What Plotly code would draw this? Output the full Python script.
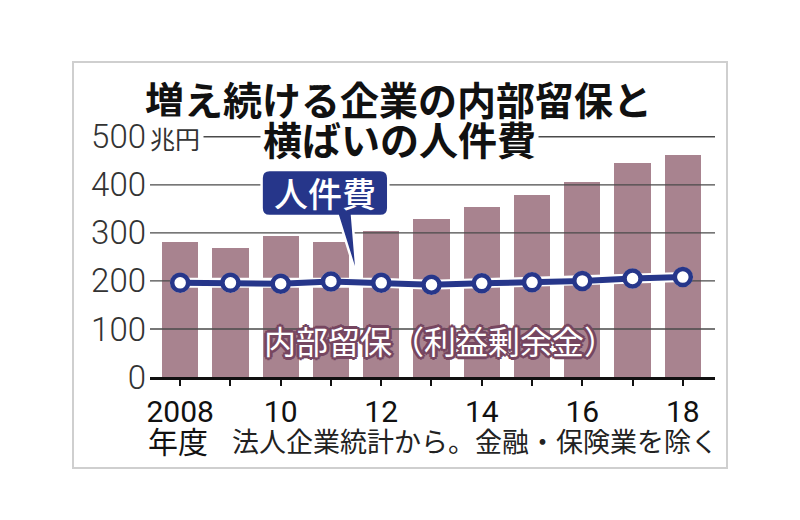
import plotly.graph_objects as go

# ---- data ----
years = [2008, 2009, 2010, 2011, 2012, 2013, 2014, 2015, 2016, 2017, 2018]
retained_earnings = [280, 269, 294, 282, 304, 328, 354, 378, 406, 446, 463]
labor_cost = [196, 196, 194, 199, 196, 192, 195, 197, 200, 205, 208]
x_tick_text = ["2008", "", "10", "", "12", "", "14", "", "16", "", "18"]
y_tick_vals = [0, 100, 200, 300, 400, 500]
y_tick_text = ["0", "100", "200", "300", "400", "500"]
title_line1 = "増え続ける企業の内部留保と"
title_line2 = "横ばいの人件費"
unit_label = "兆円"
labor_label = "人件費"
retained_label = "内部留保（利益剰余金）"
year_label = "年度"
source_note = "法人企業統計から。金融・保険業を除く"

# ---- style / layout ----
W, H = 800, 520
L, R, T, B = 150, 85, 132, 143
XR = [2007.4, 2018.64]
YR = [0, 510]
BAR = "#a8838f"
NAVY = "#26368a"
CJK = "Noto Sans CJK JP"
NUM = "Roboto"

def px(x):
    return (x - L) / (W - L - R)

def py(y):
    return (H - B - y) / (H - T - B)

fig = go.Figure()

fig.add_trace(go.Bar(x=years, y=retained_earnings, marker_color=BAR,
                     marker_line_width=0, width=0.72, hoverinfo="skip"))

# gridlines above the bars but below the line
for v in y_tick_vals[1:]:
    fig.add_trace(go.Scatter(x=XR, y=[v, v], mode="lines",
                             line=dict(color="#4a4a4a", width=1.4),
                             hoverinfo="skip"))

# white halo of the line
fig.add_trace(go.Scatter(x=years, y=labor_cost, mode="lines+markers",
                         line=dict(color="white", width=10),
                         marker=dict(size=20, color="white"),
                         cliponaxis=False, hoverinfo="skip"))
fig.add_trace(go.Scatter(x=years, y=labor_cost, mode="lines+markers",
                         line=dict(color=NAVY, width=6),
                         marker=dict(size=16, color="white",
                                     line=dict(color=NAVY, width=4.5)),
                         cliponaxis=False))

# callout box for 人件費 (data coordinates)
bx0, bx1, by0, by1 = 2009.62, 2012.14, 335, 431
rx, ry = 0.16, 17
p0, tip = (2011.14, 2011.42), (2011.52, 208)
path = (f"M {bx0+rx},{by1} L {bx1-rx},{by1} Q {bx1},{by1} {bx1},{by1-ry} "
        f"L {bx1},{by0+ry} Q {bx1},{by0} {bx1-rx},{by0} "
        f"L {p0[1]},{by0} L {tip[0]},{tip[1]} L {p0[0]},{by0} "
        f"L {bx0+rx},{by0} Q {bx0},{by0} {bx0},{by0+ry} "
        f"L {bx0},{by1-ry} Q {bx0},{by1} {bx0+rx},{by1} Z")
shapes = [
    dict(type="path", xref="x", yref="y", path=path, fillcolor=NAVY,
         line=dict(color="white", width=2.5), layer="above"),
    dict(type="rect", xref="paper", yref="paper", x0=px(73), x1=px(727),
         y0=py(468), y1=py(62), line=dict(color="#cfcfcf", width=2),
         layer="below"),
]

outline = "#764660"
shadow = ", ".join(f"{dx}px {dy}px 0 {outline}" for dx, dy in
                   [(3, 0), (-3, 0), (0, 3), (0, -3), (2, 2), (-2, 2),
                    (2, -2), (-2, -2)])

def ann(text, x, y, font, xanchor="center", xref="paper", yref="paper",
        **kw):
    return dict(text=text, x=x, y=y, xref=xref, yref=yref, showarrow=False,
                xanchor=xanchor, yanchor="middle", font=font, **kw)

annotations = [
    ann(title_line2, px(399), py(138),
        dict(family=CJK, size=39, color="#111", weight="bold"),
        bgcolor="white", borderpad=2),
    ann(title_line1, px(398), py(98),
        dict(family=CJK, size=39, color="#111", weight="bold")),
    ann(unit_label, px(146), py(138),
        dict(family=CJK, size=25, color="#333"), xanchor="left",
        bgcolor="white", borderpad=3),
    ann(labor_label, (bx0 + bx1) / 2, (by0 + by1) / 2 + 1,
        dict(family=CJK, size=34, color="white", weight=500),
        xref="x", yref="y"),
    ann(retained_label, px(440), py(340),
        dict(family=CJK, size=32, color="white", shadow=shadow)),
    ann(year_label, px(178), py(440),
        dict(family=CJK, size=30, color="#111")),
    ann(source_note, px(230), py(440),
        dict(family=CJK, size=27, color="#222"), xanchor="left"),
]

fig.update_layout(
    width=W, height=H, margin=dict(l=L, r=R, t=T, b=B),
    paper_bgcolor="white", plot_bgcolor="white", showlegend=False,
    shapes=shapes, annotations=annotations, bargap=0,
    xaxis=dict(range=XR, tickvals=years, ticktext=x_tick_text,
               showgrid=False, zeroline=False, showline=True,
               linecolor="#111", linewidth=2.5, ticks="outside",
               ticklen=6, tickwidth=1.5, tickcolor="#111",
               tickfont=dict(family=NUM, size=30, color="#111")),
    yaxis=dict(range=YR, tickvals=y_tick_vals, ticktext=y_tick_text,
               showgrid=False, zeroline=False, showline=False, ticks="",
               ticklabelstandoff=3,
               tickfont=dict(family=NUM, size=33, color="#333",
                             weight=300)),
)

fig.write_html("out.html")
